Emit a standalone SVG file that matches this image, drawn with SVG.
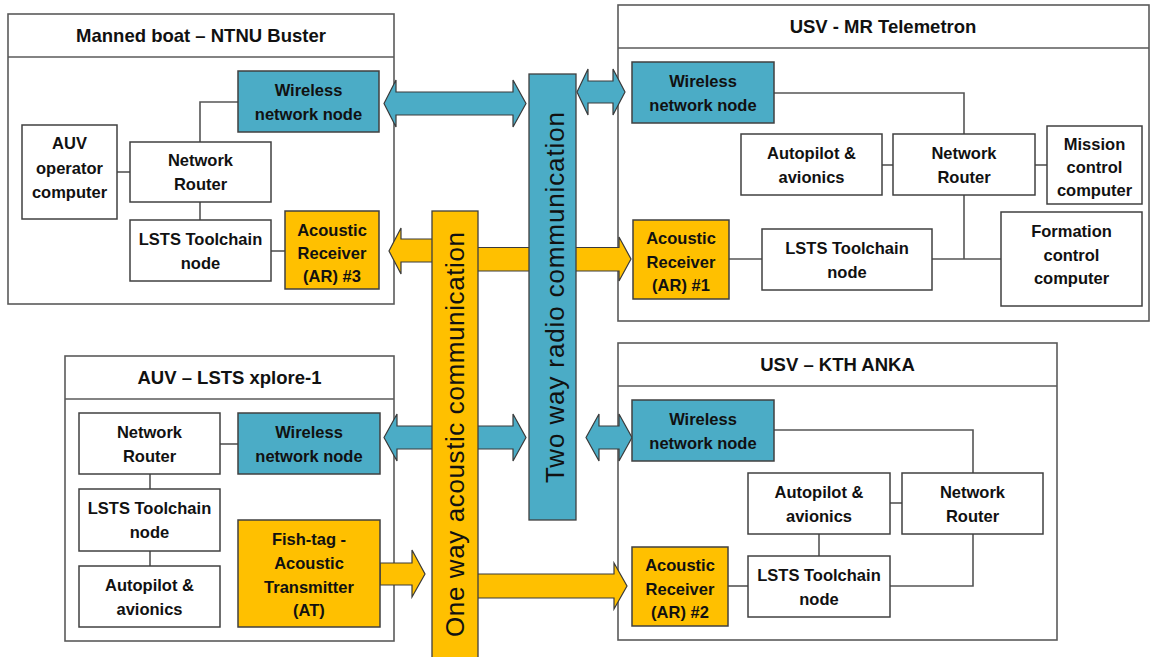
<svg xmlns="http://www.w3.org/2000/svg" width="1151" height="657" viewBox="0 0 1151 657">
<defs>
<style>
.panel{fill:#fff;stroke:#5a5a5a;stroke-width:1.6}
.div{stroke:#5a5a5a;stroke-width:1.6;fill:none}
.box{fill:#fff;stroke:#404040;stroke-width:1.5}
.blue{fill:#4BACC6;stroke:#404040;stroke-width:1.5}
.orange{fill:#FFC000;stroke:#404040;stroke-width:1.5}
.barb{fill:#4BACC6;stroke:#3f3f3f;stroke-width:1.3}
.baro{fill:#FFC000;stroke:#3f3f3f;stroke-width:1.3}
.arrb{fill:#4BACC6;stroke:#3a3a3a;stroke-width:1.2}
.arro{fill:#FFC000;stroke:#3a3a3a;stroke-width:1.2}
.t{font-family:"Liberation Sans",Arial,sans-serif;font-weight:bold;font-size:16.5px;fill:#111;text-anchor:middle}
.title{font-family:"Liberation Sans",Arial,sans-serif;font-weight:bold;font-size:18.5px;fill:#111;text-anchor:middle}
.vt{font-family:"Liberation Sans",Arial,sans-serif;font-size:26px;fill:#111;text-anchor:middle}
.conn{stroke:#555;stroke-width:1.6;fill:none}
</style>
</defs>
<rect width="1151" height="657" fill="#fff"/>

<!-- Panels -->
<g id="panel-ntnu-buster">
<rect class="panel" x="8" y="14" width="386" height="290"/>
<line class="div" x1="8" y1="57" x2="394" y2="57"/>
<text class="title" x="201" y="42">Manned boat – NTNU Buster</text>
</g>
<g id="panel-mr-telemetron">
<rect class="panel" x="618" y="5" width="531" height="316"/>
<line class="div" x1="618" y1="48" x2="1149" y2="48"/>
<text class="title" x="883" y="33">USV - MR Telemetron</text>
</g>
<g id="panel-lsts-xplore">
<rect class="panel" x="65" y="356" width="329" height="285"/>
<line class="div" x1="65" y1="399" x2="394" y2="399"/>
<text class="title" x="229.5" y="384">AUV – LSTS xplore-1</text>
</g>
<g id="panel-kth-anka">
<rect class="panel" x="618" y="343" width="439" height="297"/>
<line class="div" x1="618" y1="386" x2="1057" y2="386"/>
<text class="title" x="837.5" y="371">USV – KTH ANKA</text>
</g>

<!-- Connectors -->
<g id="connectors">
<path class="conn" d="M200 142V102H238"/>
<path class="conn" d="M117 172H130"/>
<path class="conn" d="M200 202V220"/>
<path class="conn" d="M271 251H285"/>
<path class="conn" d="M774 93H964V134"/>
<path class="conn" d="M882 165H893"/>
<path class="conn" d="M1035 165H1047"/>
<path class="conn" d="M964 195V259"/>
<path class="conn" d="M729 259H762"/>
<path class="conn" d="M932 259H1001"/>
<path class="conn" d="M220 444H238"/>
<path class="conn" d="M150 474V489"/>
<path class="conn" d="M150 551V566"/>
<path class="conn" d="M774 430H973V473"/>
<path class="conn" d="M890 503H902"/>
<path class="conn" d="M819 534V556"/>
<path class="conn" d="M890 586H973V534"/>
<path class="conn" d="M728 586H748"/>
</g>

<!-- Block arrows -->
<g id="arrows">
<polygon class="arrb" points="384,103.5 396,80 396,92 513,92 513,80 526,103.5 513,127 513,115 396,115 396,127"/>
<polygon class="arrb" points="577,92 588,69 588,81 613,81 613,69 625,92 613,115 613,103 588,103 588,115"/>
<polygon class="arrb" points="384,437.5 397,414 397,426 513,426 513,414 526,437.5 513,461 513,449 397,449 397,461"/>
<polygon class="arrb" points="586,437.5 599,414 599,426 619,426 619,414 632,437.5 619,461 619,449 599,449 599,461"/>
<polygon class="arro" points="433,239 401,239 401,228 389,251 401,274 401,262 433,262"/>
<polygon class="arro" points="477,247.5 619,247.5 619,237 631,259 619,281 619,271 477,271"/>
<polygon class="arro" points="380,563 412,563 412,550 425,574 412,597 412,585 380,585"/>
<polygon class="arro" points="477,574 614,574 614,563 627,586 614,609 614,598 477,598"/>
</g>

<!-- Communication bars -->
<g id="bar-acoustic">
<rect class="baro" x="432" y="211" width="46" height="450"/>
<text class="vt" transform="translate(464,434.5) rotate(-90)" textLength="405" lengthAdjust="spacing">One way acoustic communication</text>
</g>
<g id="bar-radio">
<rect class="barb" x="529" y="74" width="47" height="446"/>
<text class="vt" transform="translate(564,297.5) rotate(-90)" textLength="371" lengthAdjust="spacing">Two way radio communication</text>
</g>

<!-- Manned boat nodes -->
<g id="buster-wireless"><rect class="blue" x="238" y="71" width="141" height="61"/>
<text class="t" x="308.5" y="95.5">Wireless</text><text class="t" x="308.5" y="119.5">network node</text></g>
<g id="buster-auv-operator"><rect class="box" x="22" y="125" width="95" height="94"/>
<text class="t" x="69.5" y="149">AUV</text><text class="t" x="69.5" y="174">operator</text><text class="t" x="69.5" y="198">computer</text></g>
<g id="buster-router"><rect class="box" x="130" y="142" width="141" height="60"/>
<text class="t" x="200.5" y="166">Network</text><text class="t" x="200.5" y="190">Router</text></g>
<g id="buster-lsts"><rect class="box" x="130" y="220" width="141" height="61"/>
<text class="t" x="200.5" y="245">LSTS Toolchain</text><text class="t" x="200.5" y="268.5">node</text></g>
<g id="buster-ar3"><rect class="orange" x="285" y="211" width="94" height="78"/>
<text class="t" x="332" y="235.5">Acoustic</text><text class="t" x="332" y="259">Receiver</text><text class="t" x="332" y="282">(AR) #3</text></g>

<!-- MR Telemetron nodes -->
<g id="telemetron-wireless"><rect class="blue" x="632" y="62" width="142" height="61"/>
<text class="t" x="703" y="86.5">Wireless</text><text class="t" x="703" y="110.5">network node</text></g>
<g id="telemetron-autopilot"><rect class="box" x="741" y="134" width="141" height="61"/>
<text class="t" x="811.5" y="159">Autopilot &amp;</text><text class="t" x="811.5" y="183">avionics</text></g>
<g id="telemetron-router"><rect class="box" x="893" y="134" width="142" height="61"/>
<text class="t" x="964" y="159">Network</text><text class="t" x="964" y="183">Router</text></g>
<g id="telemetron-mission"><rect class="box" x="1047" y="126" width="95" height="78"/>
<text class="t" x="1094.5" y="150">Mission</text><text class="t" x="1094.5" y="173">control</text><text class="t" x="1094.5" y="196">computer</text></g>
<g id="telemetron-formation"><rect class="box" x="1001" y="212" width="141" height="94"/>
<text class="t" x="1071.5" y="236.5">Formation</text><text class="t" x="1071.5" y="261">control</text><text class="t" x="1071.5" y="284">computer</text></g>
<g id="telemetron-ar1"><rect class="orange" x="633" y="220" width="96" height="79"/>
<text class="t" x="681" y="244">Acoustic</text><text class="t" x="681" y="268">Receiver</text><text class="t" x="681" y="291">(AR) #1</text></g>
<g id="telemetron-lsts"><rect class="box" x="762" y="229" width="170" height="61"/>
<text class="t" x="847" y="253.5">LSTS Toolchain</text><text class="t" x="847" y="277.5">node</text></g>

<!-- xplore-1 nodes -->
<g id="xplore-router"><rect class="box" x="79" y="413" width="141" height="61"/>
<text class="t" x="149.5" y="437.5">Network</text><text class="t" x="149.5" y="461.5">Router</text></g>
<g id="xplore-wireless"><rect class="blue" x="238" y="413" width="142" height="61"/>
<text class="t" x="309" y="437.5">Wireless</text><text class="t" x="309" y="461.5">network node</text></g>
<g id="xplore-lsts"><rect class="box" x="79" y="489" width="141" height="62"/>
<text class="t" x="149.5" y="514">LSTS Toolchain</text><text class="t" x="149.5" y="538">node</text></g>
<g id="xplore-autopilot"><rect class="box" x="79" y="566" width="141" height="61"/>
<text class="t" x="149.5" y="590.5">Autopilot &amp;</text><text class="t" x="149.5" y="614.5">avionics</text></g>
<g id="xplore-at"><rect class="orange" x="238" y="520" width="142" height="107"/>
<text class="t" x="309" y="545">Fish-tag -</text><text class="t" x="309" y="569">Acoustic</text><text class="t" x="309" y="593">Transmitter</text><text class="t" x="309" y="616">(AT)</text></g>

<!-- KTH ANKA nodes -->
<g id="anka-wireless"><rect class="blue" x="632" y="400" width="142" height="61"/>
<text class="t" x="703" y="424.5">Wireless</text><text class="t" x="703" y="448.5">network node</text></g>
<g id="anka-ar2"><rect class="orange" x="632" y="547" width="96" height="79"/>
<text class="t" x="680" y="571">Acoustic</text><text class="t" x="680" y="595">Receiver</text><text class="t" x="680" y="618">(AR) #2</text></g>
<g id="anka-autopilot"><rect class="box" x="748" y="473" width="142" height="61"/>
<text class="t" x="819" y="497.5">Autopilot &amp;</text><text class="t" x="819" y="521.5">avionics</text></g>
<g id="anka-router"><rect class="box" x="902" y="473" width="141" height="61"/>
<text class="t" x="972.5" y="497.5">Network</text><text class="t" x="972.5" y="521.5">Router</text></g>
<g id="anka-lsts"><rect class="box" x="748" y="556" width="142" height="61"/>
<text class="t" x="819" y="580.5">LSTS Toolchain</text><text class="t" x="819" y="604.5">node</text></g>
</svg>
